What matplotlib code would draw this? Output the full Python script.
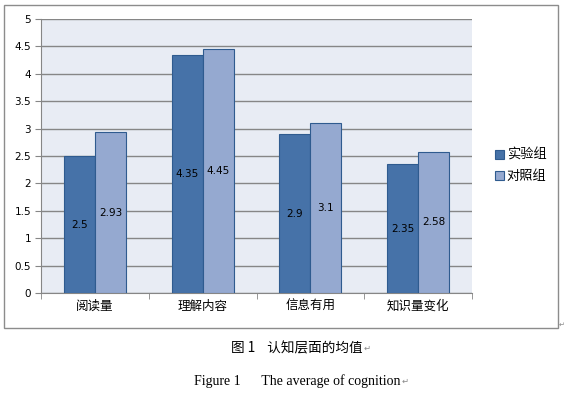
import matplotlib
matplotlib.use("Agg")
import matplotlib.pyplot as plt
from matplotlib.patches import Rectangle
import numpy as np

plt.rcParams['font.family'] = ['DejaVu Sans', 'Noto Sans CJK SC']

categories = ["阅读量", "理解内容", "信息有用", "知识量变化"]
series_names = ["实验组", "对照组"]
exp_vals = [2.5, 4.35, 2.9, 2.35]
ctl_vals = [2.93, 4.45, 3.1, 2.58]
exp_labels = ["2.5", "4.35", "2.9", "2.35"]
ctl_labels = ["2.93", "4.45", "3.1", "2.58"]
yticks = [0, 0.5, 1, 1.5, 2, 2.5, 3, 3.5, 4, 4.5, 5]
ytick_labels = ["0", "0.5", "1", "1.5", "2", "2.5", "3", "3.5", "4", "4.5", "5"]

W, H = 565, 393
fig = plt.figure(figsize=(W/100, H/100), dpi=100)
fig.patch.set_facecolor("white")

# outer chart frame
fig.patches.append(Rectangle((4/W, (H-328)/H), 554/W, 323/H, transform=fig.transFigure,
                             fill=False, edgecolor="#8c8c8c", linewidth=1.0))

ax = fig.add_axes([41/W, (H-293)/H, 431/W, 274/H])
ax.set_facecolor("#E8ECF4")

x = np.arange(len(categories))
bw = 0.288
dark = "#4672A8"
light = "#95A9D0"
edge = "#2F5B8F"
b1 = ax.bar(x - bw/2, exp_vals, bw, color=dark, edgecolor=edge, linewidth=0.8, label=series_names[0], zorder=3)
b2 = ax.bar(x + bw/2, ctl_vals, bw, color=light, edgecolor=edge, linewidth=0.8, label=series_names[1], zorder=3)

for xi, v, lab in zip(x - bw/2, exp_vals, exp_labels):
    ax.text(xi, v/2, lab, ha="center", va="center", fontsize=7.5, color="black", zorder=4)
for xi, v, lab in zip(x + bw/2, ctl_vals, ctl_labels):
    ax.text(xi, v/2, lab, ha="center", va="center", fontsize=7.5, color="black", zorder=4)

ax.set_xlim(-0.5, len(categories) - 0.5)
ax.set_ylim(0, 5)
ax.set_yticks(yticks)
ax.set_yticklabels(ytick_labels, fontsize=7.5)
ax.yaxis.grid(True, color="#868686", linewidth=1.0, zorder=1)
ax.set_xticks(x)
ax.set_xticklabels(categories, fontsize=9, family=['Noto Sans CJK SC'])
ax.set_xticks(np.arange(-0.5, len(categories)), minor=True)
ax.tick_params(axis='x', which='major', length=0, pad=5)
ax.tick_params(axis='x', which='minor', length=4, color="#868686")
ax.tick_params(axis='y', length=4, color="#868686", pad=3)
for s in ["top", "right"]:
    ax.spines[s].set_visible(False)
for s in ["left", "bottom"]:
    ax.spines[s].set_color("#868686")

leg = fig.legend(handles=[b1, b2], labels=series_names, loc="center left",
                 bbox_to_anchor=(483/W, (H-166)/H), frameon=False,
                 prop={'family': ['Noto Sans CJK SC'], 'size': 9.5},
                 handlelength=0.7, handleheight=0.7, handletextpad=0.2, labelspacing=0.6)

fig.text(562/W, (H-325)/H, "↵", fontsize=5, color="#888888", ha="center", va="center",
         family=['DejaVu Sans'])
t1 = fig.text(297/W, (H-348)/H, "图 1    认知层面的均值", fontsize=9.8, ha="center", va="center",
              family=['Noto Sans CJK SC'])
t2 = fig.text(297/W, (H-381)/H, "Figure 1      The average of cognition", fontsize=10, ha="center", va="center",
              family=['Liberation Serif'])
fig.canvas.draw()
r = fig.canvas.get_renderer()
for t in (t1, t2):
    bb = t.get_window_extent(r)
    fig.text((bb.x1 + 1)/W, (bb.y0 + bb.y1)/2/H, "↵", fontsize=6, color="#888888",
             ha="left", va="center", family=['DejaVu Sans'])

fig.savefig("out.png", dpi=100)
